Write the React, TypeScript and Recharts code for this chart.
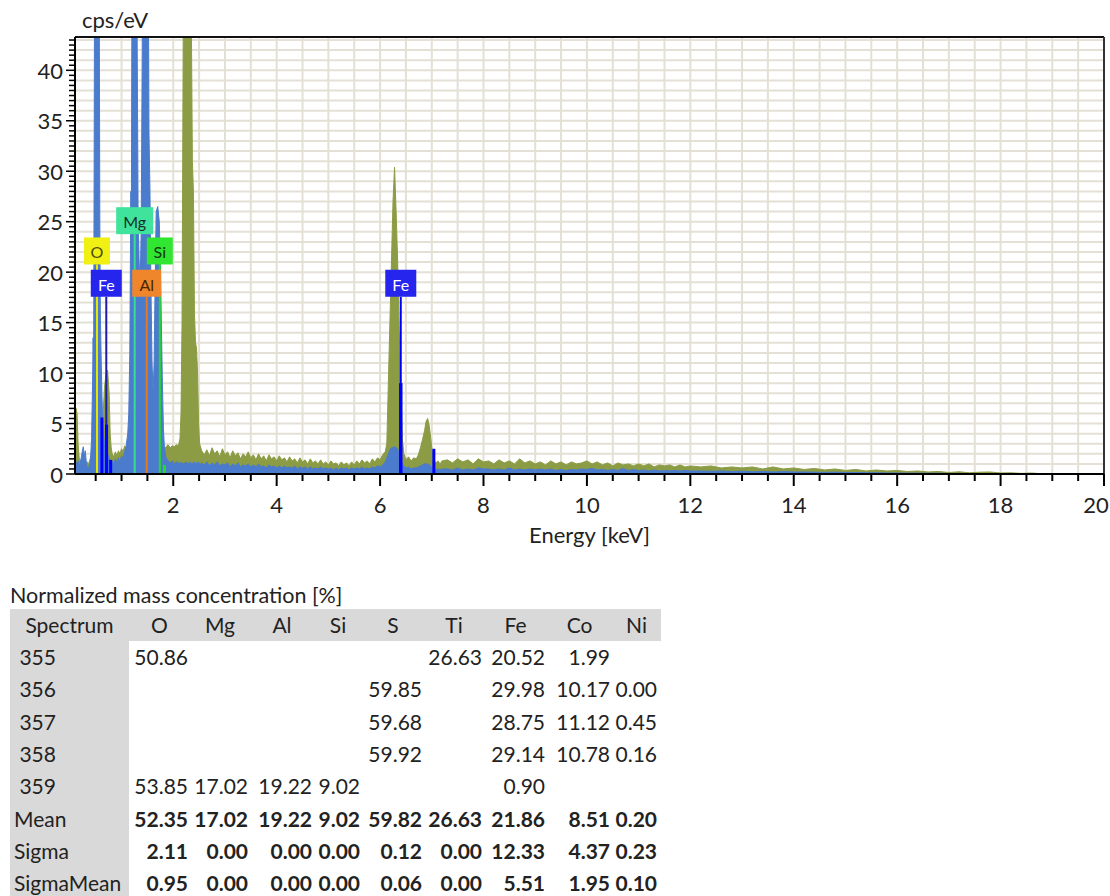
import React from 'react';
import {
  AreaChart,
  Area,
  XAxis,
  YAxis,
  CartesianGrid,
  ReferenceLine,
  ReferenceDot,
} from 'recharts';

// --- spectrum, split by energy window ---
// C / O / Fe-L window
const lowKeV = [0.1, 0.12, 0.14, 0.16, 0.18, 0.2, 0.22, 0.24, 0.26, 0.28, 0.3, 0.32, 0.34, 0.36, 0.38, 0.4, 0.42, 0.44, 0.45, 0.46, 0.47, 0.48, 0.5, 0.52, 0.54, 0.56, 0.57, 0.58, 0.59, 0.6, 0.62, 0.64, 0.67, 0.7, 0.73, 0.76, 0.78, 0.8, 0.82];
const lowBlue = [1.0, 1.2, 0.8, 1.3, 0.6, 1.1, 1.6, 2.2, 2.7, 1.8, 2.3, 1.0, 0.7, 0.5, 0.9, 1.4, 3.5, 9, 13.5, 11, 30, 55, 75, 85, 80, 60, 45, 25, 16, 13, 8, 4.5, 3.0, 2.4, 2.0, 1.6, 1.3, 1.1, 1.3];
const lowGreen = [5.0, 6.5, 6.0, 3.0, 1.6, 1.2, 1.4, 1.5, 1.8, 1.3, 1.5, 1.0, 1.2, 0.9, 1.3, 1.6, 2.0, 2.2, 2.0, 2.4, 2.2, 2.5, 2.3, 2.6, 2.4, 2.5, 2.3, 2.6, 2.4, 3.0, 4.0, 5.5, 8.5, 10.0, 10.3, 8.0, 4.0, 2.6, 2.0];

// Mg / Al / Si window
const midKeV = [0.85, 0.88, 0.91, 0.94, 0.97, 1.0, 1.03, 1.06, 1.09, 1.12, 1.14, 1.16, 1.17, 1.18, 1.19, 1.2, 1.22, 1.25, 1.28, 1.3, 1.32, 1.34, 1.36, 1.38, 1.4, 1.42, 1.46, 1.5, 1.52, 1.53, 1.55, 1.57, 1.59, 1.61, 1.63, 1.65, 1.67, 1.7, 1.73, 1.75, 1.77, 1.79, 1.81, 1.83, 1.86, 1.9, 1.94, 1.98, 2.02, 2.06];
const midBlue = [0.9, 1.5, 1.1, 1.6, 1.2, 1.8, 1.5, 2.2, 2.8, 4.0, 6, 12, 20, 28, 25, 45, 80, 95, 80, 45, 26, 21, 19, 24, 42, 75, 95, 90, 48, 34, 28, 18, 11, 8, 11, 19, 26, 26.5, 25, 21, 15, 9, 4.5, 2.5, 1.6, 1.3, 1.1, 1.3, 1.0, 1.2];
const midGreen = [1.7, 2.2, 1.8, 2.3, 2.0, 2.5, 2.2, 2.8, 2.5, 3.0, 2.8, 3.0, 2.7, 3.1, 2.9, 3.0, 2.8, 3.2, 2.9, 3.1, 2.8, 3.0, 2.7, 2.9, 3.0, 2.8, 3.1, 2.9, 3.0, 2.8, 2.9, 2.7, 3.0, 2.6, 2.8, 2.7, 2.9, 2.6, 2.8, 2.7, 2.9, 2.6, 2.8, 2.5, 2.7, 2.9, 2.6, 2.8, 2.7, 2.9];

// S K window
const sulfurKeV = [2.1, 2.13, 2.15, 2.17, 2.19, 2.21, 2.24, 2.27, 2.3, 2.33, 2.35, 2.37, 2.39, 2.41, 2.43, 2.45, 2.47, 2.49, 2.51];
const sulfurBlue = [1.1, 1.0, 1.2, 0.9, 1.1, 1.0, 1.2, 1.1, 1.0, 1.2, 0.9, 1.1, 1.0, 1.2, 0.9, 1.1, 1.0, 1.2, 0.9];
const sulfurGreen = [2.8, 3.5, 6, 15, 40, 70, 88, 95, 85, 60, 45, 31, 28, 16, 13, 12.5, 10, 5, 3];

// background 2.55 - 6.05 keV
const bgKeV = [
  2.55, 2.6, 2.65, 2.7, 2.75, 2.8, 2.85, 2.9, 2.95, 3.0,
  3.05, 3.1, 3.15, 3.2, 3.25, 3.3, 3.35, 3.4, 3.45, 3.5,
  3.55, 3.6, 3.65, 3.7, 3.75, 3.8, 3.85, 3.9, 3.95, 4.0,
  4.05, 4.1, 4.15, 4.2, 4.25, 4.3, 4.35, 4.4, 4.45, 4.5,
  4.55, 4.6, 4.65, 4.7, 4.75, 4.8, 4.85, 4.9, 4.95, 5.0,
  5.05, 5.1, 5.15, 5.2, 5.25, 5.3, 5.35, 5.4, 5.45, 5.5,
  5.55, 5.6, 5.65, 5.7, 5.75, 5.8, 5.85, 5.9, 5.95, 6.0,
  6.05,
];
const bgBlue = [
  1.1, 0.9, 1.2, 0.8, 1.1, 0.9, 1.2, 0.8, 1.0, 0.9,
  1.1, 0.7, 1.0, 0.8, 1.1, 0.7, 0.9, 0.8, 1.0, 0.7,
  0.9, 0.7, 1.0, 0.7, 0.8, 0.6, 0.9, 0.7, 0.8, 0.6,
  0.8, 0.6, 0.8, 0.6, 0.7, 0.6, 0.8, 0.5, 0.7, 0.6,
  0.7, 0.5, 0.7, 0.5, 0.6, 0.5, 0.7, 0.5, 0.6, 0.5,
  0.6, 0.4, 0.6, 0.4, 0.6, 0.5, 0.6, 0.4, 0.6, 0.5,
  0.6, 0.5, 0.7, 0.5, 0.6, 0.5, 0.7, 0.6, 0.8, 0.7,
  0.9,
];
const bgGreen = [
  2.3, 1.9, 2.4, 1.8, 2.6, 2.0, 2.3, 1.7, 2.5, 1.9,
  2.2, 1.6, 2.3, 1.8, 2.1, 1.5, 2.0, 1.7, 2.2, 1.6,
  1.9, 1.4, 2.0, 1.5, 1.8, 1.3, 1.9, 1.5, 1.7, 1.3,
  1.8, 1.4, 1.6, 1.2, 1.7, 1.3, 1.5, 1.1, 1.6, 1.2,
  1.4, 1.0, 1.5, 1.1, 1.3, 1.0, 1.4, 1.0, 1.2, 0.9,
  1.3, 1.0, 1.1, 0.8, 1.2, 0.9, 1.1, 0.8, 1.2, 0.9,
  1.3, 1.0, 1.4, 1.1, 1.3, 1.0, 1.5, 1.2, 1.6, 1.4,
  1.9,
];

// Fe K window
const ironKeV = [6.1, 6.13, 6.16, 6.19, 6.22, 6.25, 6.28, 6.31, 6.34, 6.37, 6.4, 6.43, 6.46, 6.5, 6.55, 6.6, 6.65, 6.7, 6.74, 6.78, 6.82, 6.86, 6.89, 6.92, 6.95, 6.98, 7.01, 7.04, 7.08, 7.12, 7.16, 7.2];
const ironBlue = [1.2, 1.6, 2.0, 2.4, 2.6, 2.6, 2.7, 2.6, 2.5, 2.0, 1.5, 1.0, 0.8, 0.6, 0.7, 0.5, 0.6, 0.6, 0.7, 0.8, 0.9, 1.0, 1.0, 1.0, 0.9, 0.8, 0.6, 0.5, 0.4, 0.5, 0.4, 0.5];
const ironGreen = [2.2, 3.0, 9, 15, 21, 27, 30.4, 26, 21, 14, 9, 3.5, 2.0, 1.4, 1.7, 1.3, 1.6, 1.5, 1.9, 2.6, 3.4, 4.3, 5.2, 5.5, 4.8, 3.5, 2.2, 1.4, 1.1, 1.3, 1.0, 1.3];

// high-energy tail
const tailKeV = [
  7.3, 7.4, 7.5, 7.6, 7.7, 7.8, 7.9, 8.0, 8.1, 8.2,
  8.3, 8.4, 8.5, 8.6, 8.7, 8.8, 8.9, 9.0, 9.1, 9.2,
  9.3, 9.4, 9.5, 9.6, 9.7, 9.8, 9.9, 10.0, 10.1, 10.2,
  10.3, 10.4, 10.5, 10.6, 10.7, 10.8, 10.9, 11.0, 11.1, 11.2,
  11.3, 11.4, 11.5, 11.6, 11.7, 11.8, 11.9, 12.0,
  12.2, 12.4, 12.6, 12.8, 13.0, 13.2, 13.4, 13.6, 13.8, 14.0,
  14.2, 14.4, 14.6, 14.8, 15.0, 15.2, 15.4, 15.6, 15.8, 16.0,
  16.2, 16.4, 16.6, 16.8, 17.0, 17.2, 17.4, 17.6, 17.8, 18.0,
  18.2, 18.4, 18.6, 18.8,
  19.0, 20.0,
];
const tailBlue = [
  0.5, 0.4, 0.6, 0.4, 0.5, 0.4, 0.6, 0.5, 0.5, 0.4,
  0.5, 0.4, 0.6, 0.4, 0.5, 0.4, 0.5, 0.4, 0.5, 0.4,
  0.5, 0.35, 0.45, 0.35, 0.45, 0.4, 0.5, 0.45, 0.55, 0.4,
  0.45, 0.35, 0.45, 0.35, 0.55, 0.35, 0.45, 0.35, 0.4, 0.3,
  0.4, 0.3, 0.35, 0.3, 0.35, 0.3, 0.35, 0.3,
  0.3, 0.28, 0.3, 0.25, 0.28, 0.22, 0.26, 0.2, 0.24, 0.2,
  0.2, 0.18, 0.16, 0.18, 0.14, 0.15, 0.12, 0.13, 0.1, 0.11,
  0.08, 0.09, 0.07, 0.08, 0.05, 0.06, 0.04, 0.05, 0.04, 0.03,
  0.03, 0.02, 0.02, 0.01,
  0, 0,
];
const tailGreen = [
  1.4, 1.1, 1.5, 1.2, 1.4, 1.0, 1.5, 1.2, 1.3, 1.0,
  1.4, 1.1, 1.3, 1.0, 1.5, 1.1, 1.3, 1.0, 1.2, 0.9,
  1.3, 1.0, 1.2, 0.9, 1.2, 1.0, 1.1, 1.3, 1.0, 1.2,
  0.9, 1.1, 0.8, 1.1, 0.9, 1.0, 0.8, 1.0, 0.8, 1.0,
  0.7, 0.9, 0.8, 0.9, 0.7, 0.9, 0.7, 0.8,
  0.7, 0.8, 0.6, 0.7, 0.6, 0.7, 0.5, 0.7, 0.5, 0.6,
  0.45, 0.55, 0.4, 0.5, 0.35, 0.45, 0.3, 0.4, 0.3, 0.35,
  0.25, 0.3, 0.2, 0.25, 0.15, 0.22, 0.12, 0.18, 0.2, 0.1,
  0.12, 0.06, 0.1, 0.02,
  0, 0,
];

// element markers (line energy, label height in cps/eV)
const tagElements = ['O', 'Fe', 'Mg', 'Al', 'Si', 'Fe'];
const tagKeV = [0.525, 0.705, 1.254, 1.487, 1.74, 6.4];
const tagCps = [22.1, 18.9, 25.1, 18.9, 22.1, 18.9];

// fitted line intensities drawn as bars
const lineKeV = [0.62, 0.71, 0.79, 6.4, 7.04, 1.83];
const lineCps = [5.6, 4.9, 1.4, 9.0, 2.5, 0.9];

// quantification table
const tableElements = ['O', 'Mg', 'Al', 'Si', 'S', 'Ti', 'Fe', 'Co', 'Ni'];
const spectrumIds = ['355', '356', '357', '358', '359'];
const spectrumValues = [
  ['50.86', '', '', '', '', '26.63', '20.52', '1.99', ''],
  ['', '', '', '', '59.85', '', '29.98', '10.17', '0.00'],
  ['', '', '', '', '59.68', '', '28.75', '11.12', '0.45'],
  ['', '', '', '', '59.92', '', '29.14', '10.78', '0.16'],
  ['53.85', '17.02', '19.22', '9.02', '', '', '0.90', '', ''],
];
const statLabels = ['Mean', 'Sigma', 'SigmaMean'];
const statValues = [
  ['52.35', '17.02', '19.22', '9.02', '59.82', '26.63', '21.86', '8.51', '0.20'],
  ['2.11', '0.00', '0.00', '0.00', '0.12', '0.00', '12.33', '4.37', '0.23'],
  ['0.95', '0.00', '0.00', '0.00', '0.06', '0.00', '5.51', '1.95', '0.10'],
];

const zip = (e: number[], b: number[], g: number[]) =>
  e.map((keV, i) => ({ keV, blue: b[i], green: g[i] }));

const rows = [
  ...zip(lowKeV, lowBlue, lowGreen),
  ...zip(midKeV, midBlue, midGreen),
  ...zip(sulfurKeV, sulfurBlue, sulfurGreen),
  ...zip(bgKeV, bgBlue, bgGreen),
  ...zip(ironKeV, ironBlue, ironGreen),
  ...zip(tailKeV, tailBlue, tailGreen),
];

const FONT = 'Lato, "Open Sans", sans-serif';
const BLUE = '#4a7bcd';
const GREEN = '#8b9c44';
const GRID = '#e4e0d5';
const Y_MAX = 43.3;

const xTicks = Array.from({ length: 40 }, (_, i) => (i + 1) * 0.5);
const yTicks = Array.from({ length: 87 }, (_, i) => i * 0.5);
const gridX = Array.from({ length: 39 }, (_, i) => (i + 1) * 0.5);
const gridY = Array.from({ length: 43 }, (_, i) => i + 1);

const tagStyle: Record<string, { fill: string; text: string; w: number }> = {
  O: { fill: '#f0f014', text: '#4d4a00', w: 26 },
  Fe: { fill: '#2525ee', text: '#ffffff', w: 31 },
  Mg: { fill: '#3fe39b', text: '#15302a', w: 37 },
  Al: { fill: '#f0862c', text: '#4a2500', w: 29 },
  Si: { fill: '#30e630', text: '#0f360f', w: 26 },
};
const tagLine = ['#e6e600', '#1c1ca6', '#35de92', '#e8781c', '#22dd22', '#0000ff'];
const barColor = ['#0000ff', '#0000ff', '#0000ff', '#0000ff', '#0000ff', '#22dd22'];

const XTick = (props: any) => {
  const { x, y, payload } = props;
  const v = payload.value;
  const major = Math.abs(v % 2) < 1e-6;
  return (
    <g>
      <line x1={x} y1={y} x2={x} y2={y + (major ? 12 : 7)} stroke="#000" strokeWidth={2} />
      {major && (
        <text
          x={v === 20 ? x - 8 : x}
          y={y + 30}
          textAnchor="middle"
          dominantBaseline="central"
          fontSize={22}
          fontFamily={FONT}
          fill="#222"
        >
          {v}
        </text>
      )}
    </g>
  );
};

const YTick = (props: any) => {
  const { x, y, payload } = props;
  const v = payload.value;
  const major = Math.abs(v % 5) < 1e-6;
  return (
    <g>
      <line x1={x} y1={y} x2={x - (major ? 9 : 6)} y2={y} stroke="#000" strokeWidth={1.5} />
      {major && (
        <text
          x={x - 12}
          y={y}
          textAnchor="end"
          dominantBaseline="central"
          fontSize={22}
          fontFamily={FONT}
          fill="#222"
        >
          {v}
        </text>
      )}
    </g>
  );
};

const tagShape = (el: string) => (p: any) => {
  const s = tagStyle[el];
  return (
    <g>
      <rect x={p.cx - s.w / 2} y={p.cy - 13.5} width={s.w} height={27} fill={s.fill} />
      <text
        x={p.cx}
        y={p.cy + 1}
        textAnchor="middle"
        dominantBaseline="central"
        fontSize={16}
        fontFamily={FONT}
        fill={s.text}
      >
        {el}
      </text>
    </g>
  );
};

const colW = [119, 61, 60, 64, 48, 62, 60, 63, 65, 49];

function TableRow({ label, values, bold, top, height, header }: any) {
  return (
    <div style={{ position: 'absolute', left: 10, top, height, display: 'flex' }}>
      <div
        style={{
          width: colW[0],
          lineHeight: `${height}px`,
          paddingLeft: header ? 0 : 4,
          boxSizing: 'border-box',
          textAlign: header ? 'center' : 'left',
        }}
      >
        {label}
      </div>
      {values.map((v: string, i: number) => (
        <div
          key={i}
          style={{
            width: colW[i + 1],
            lineHeight: `${height}px`,
            textAlign: header ? 'center' : 'right',
            paddingRight: header ? 0 : i === 8 ? 4 : 2,
            boxSizing: 'border-box',
            fontWeight: bold ? 700 : 400,
          }}
        >
          {v}
        </div>
      ))}
    </div>
  );
}

export default function App() {
  return (
    <div
      style={{
        position: 'absolute',
        left: 0,
        top: 0,
        width: 1110,
        height: 896,
        background: '#fff',
        fontFamily: FONT,
        color: '#222',
        overflow: 'hidden',
      }}
    >
      <div style={{ position: 'absolute', left: 0, top: 0 }}>
        <AreaChart
          width={1110}
          height={560}
          data={rows}
          margin={{ top: 37, right: 6, bottom: 16, left: 0 }}
        >
          <CartesianGrid
            stroke={GRID}
            strokeWidth={2}
            horizontalValues={gridY}
            verticalValues={gridX}
          />
          <XAxis
            dataKey="keV"
            type="number"
            domain={[0.1, 20]}
            allowDataOverflow
            ticks={xTicks}
            interval={0}
            tick={<XTick />}
            tickLine={false}
            tickSize={0}
            tickMargin={0}
            height={70}
            axisLine={{ stroke: '#000', strokeWidth: 2 }}
            label={{
              value: 'Energy [keV]',
              position: 'insideBottom',
              offset: 1,
              fontSize: 22,
              fontFamily: FONT,
              fill: '#222',
            }}
          />
          <YAxis
            type="number"
            domain={[0, Y_MAX]}
            allowDataOverflow
            ticks={yTicks}
            interval={0}
            tick={<YTick />}
            tickLine={false}
            tickSize={0}
            tickMargin={0}
            width={75}
            axisLine={{ stroke: '#000', strokeWidth: 2 }}
          />
          <Area
            type="linear"
            dataKey="green"
            stroke={GREEN}
            strokeWidth={1}
            fill={GREEN}
            fillOpacity={1}
            isAnimationActive={false}
            dot={false}
            activeDot={false}
          />
          <Area
            type="linear"
            dataKey="blue"
            stroke={BLUE}
            strokeWidth={1}
            fill={BLUE}
            fillOpacity={1}
            isAnimationActive={false}
            dot={false}
            activeDot={false}
          />
          {tagKeV.map((k, i) => (
            <ReferenceLine
              key={`ml${i}`}
              segment={[
                { x: k, y: 0 },
                { x: k, y: tagCps[i] - 1.35 },
              ]}
              stroke={tagLine[i]}
              strokeWidth={2}
            />
          ))}
          {lineKeV.map((k, i) => (
            <ReferenceLine
              key={`bl${i}`}
              segment={[
                { x: k, y: 0 },
                { x: k, y: lineCps[i] },
              ]}
              stroke={barColor[i]}
              strokeWidth={i === 3 ? 3.5 : 3}
            />
          ))}
          <ReferenceLine y={Y_MAX} stroke="#111" strokeWidth={2} />
          <ReferenceLine x={20} stroke="#333" strokeWidth={2} />
          {tagKeV.map((k, i) => (
            <ReferenceDot
              key={`tag${i}`}
              x={k}
              y={tagCps[i]}
              r={0}
              shape={tagShape(tagElements[i])}
            />
          ))}
        </AreaChart>
      </div>
      <div style={{ position: 'absolute', left: 82, top: 7, fontSize: 22, lineHeight: '26px' }}>
        cps/eV
      </div>
      <div style={{ position: 'absolute', left: 10, top: 583, fontSize: 21.5, lineHeight: '24px' }}>
        Normalized mass concentration [%]
      </div>
      {/* grey header band and first column */}
      <div style={{ position: 'absolute', left: 10, top: 609, width: 651, height: 32, background: '#d9d9d9' }} />
      <div style={{ position: 'absolute', left: 10, top: 609, width: colW[0], height: 290, background: '#d9d9d9' }} />
      <div style={{ fontSize: 21 }}>
        <TableRow label="Spectrum" values={tableElements} top={609} height={32} header />
        {spectrumIds.map((id, r) => (
          <TableRow
            key={id}
            label={'\u00a0' + id}
            values={spectrumValues[r]}
            top={641 + r * 32.3}
            height={32.3}
          />
        ))}
        {statLabels.map((lab, r) => (
          <TableRow
            key={lab}
            label={lab}
            values={statValues[r]}
            bold
            top={641 + (5 + r) * 32.3}
            height={32.3}
          />
        ))}
      </div>
    </div>
  );
}
